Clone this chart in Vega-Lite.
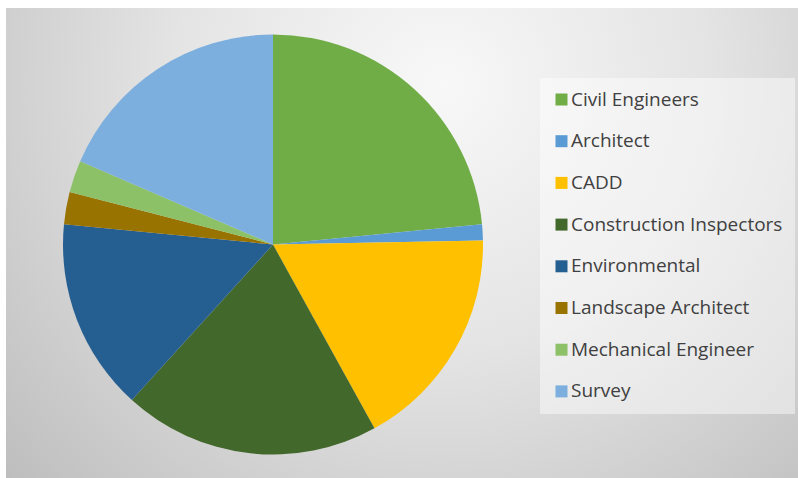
{
  "$schema": "https://vega.github.io/schema/vega-lite/v6.json",
  "width": 792,
  "height": 470,
  "autosize": {"type": "none"},
  "padding": {"left": 6, "top": 8, "right": 0, "bottom": 0},
  "background": "white",
  "config": {
    "view": {
      "stroke": null,
      "fill": {
        "gradient": "radial",
        "x1": 0.55, "y1": 0.3, "r1": 0,
        "x2": 0.55, "y2": 0.3, "r2": 0.75,
        "stops": [
          {"offset": 0, "color": "#f8f8f8"},
          {"offset": 0.45, "color": "#e4e4e4"},
          {"offset": 1, "color": "#bdbdbd"}
        ]
      }
    }
  },
  "data": {
    "values": [
      {"i": 1, "category": "Civil Engineers", "count": 19},
      {"i": 2, "category": "Architect", "count": 1},
      {"i": 3, "category": "CADD", "count": 14},
      {"i": 4, "category": "Construction Inspectors", "count": 16},
      {"i": 5, "category": "Environmental", "count": 12},
      {"i": 6, "category": "Landscape Architect", "count": 2},
      {"i": 7, "category": "Mechanical Engineer", "count": 2},
      {"i": 8, "category": "Survey", "count": 15}
    ]
  },
  "mark": {"type": "arc", "outerRadius": 210},
  "encoding": {
    "theta": {"field": "count", "type": "quantitative", "stack": true},
    "order": {"field": "i", "type": "quantitative"},
    "x": {"value": 267},
    "y": {"value": 236.5},
    "color": {
      "field": "category",
      "type": "nominal",
      "sort": ["Civil Engineers", "Architect", "CADD", "Construction Inspectors", "Environmental", "Landscape Architect", "Mechanical Engineer", "Survey"],
      "scale": {
        "domain": ["Civil Engineers", "Architect", "CADD", "Construction Inspectors", "Environmental", "Landscape Architect", "Mechanical Engineer", "Survey"],
        "range": ["#70AD47", "#5B9BD5", "#FFC000", "#43682B", "#255E91", "#997300", "#8CC168", "#7CAFDD"]
      },
      "legend": {
        "title": null,
        "orient": "none",
        "legendX": 534,
        "legendY": 70,
        "padding": 12,
        "fillColor": "rgba(255,255,255,0.45)",
        "symbolType": "square",
        "symbolSize": 144,
        "symbolStrokeWidth": 0,
        "symbolOpacity": 1,
        "labelFont": "Open Sans",
        "labelFontSize": 19,
        "labelColor": "#404040",
        "labelOffset": 0,
        "labelLimit": 400,
        "rowPadding": 21.7
      }
    }
  }
}
